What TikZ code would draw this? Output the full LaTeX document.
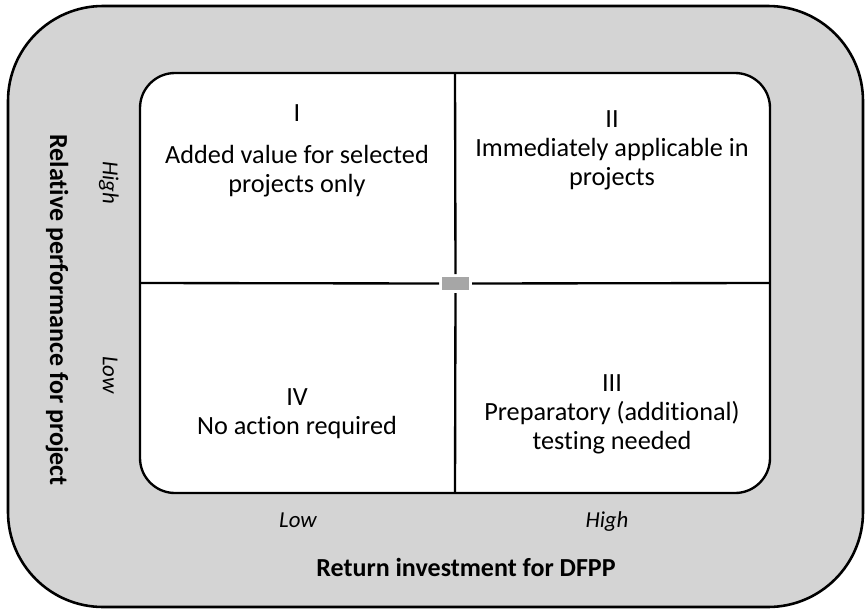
\documentclass[tikz,border=0pt]{standalone}
\usepackage{fontspec}
\setmainfont{Carlito}[Ligatures=NoCommon]
\definecolor{panelgray}{HTML}{D4D4D4}
\definecolor{markgray}{HTML}{A6A6A6}
\begin{document}
\begin{tikzpicture}[x=0.03cm,y=-0.03cm,
		quad/.style={align=center,font=\fontsize{22.4}{24.8}\selectfont},
		axislab/.style={font=\fontsize{22.2}{26}\selectfont\bfseries},
		levellab/.style={font=\fontsize{19.5}{23}\selectfont\itshape,text height=1.5ex,text depth=.4ex}]
		\useasboundingbox (0,0) rectangle (865,610);
		\draw[line width=2.2pt,fill=panelgray,rounded corners=2.85cm] (8,6) rectangle (863,607);
		\draw[line width=2pt,fill=white,rounded corners=1.05cm] (140,73) rectangle (770,493);
		\coordinate (top) at (455,73);
		\coordinate (bot) at (455,493);
		\coordinate (lft) at (140,283);
		\coordinate (rgt) at (770,283);
		\node[fill=markgray,minimum width=0.81cm,minimum height=0.39cm,inner sep=0pt,outer sep=0.09cm] (mid) at (455.5,283.5) {};
		\draw[line width=2pt] (top)--(mid.north) (mid.south)--(bot) (lft)--(mid.west) (mid.east)--(rgt);
		\node[quad] (q1) at (297,151) {I\\[11pt]Added value for selected\\projects only};
		\node[quad] (q2) at (612,150) {II\\Immediately applicable in\\projects};
		\node[quad] (q3) at (612,414) {III\\Preparatory (additional)\\testing needed};
		\node[quad] (q4) at (297,414) {IV\\No action required};
		\node[axislab,rotate=-90] (ylab) at (57,310) {Relative performance for project};
		\node[levellab,rotate=-90] (yhigh) at (106,183) {High};
		\node[levellab,rotate=-90] (ylow) at (106,375) {Low};
		\node[levellab] (xlow) at (298,524) {Low};
		\node[levellab] (xhigh) at (607,524) {High};
		\node[axislab] (xlab) at (466,567) {Return investment for DFPP};
\end{tikzpicture}
\end{document}
